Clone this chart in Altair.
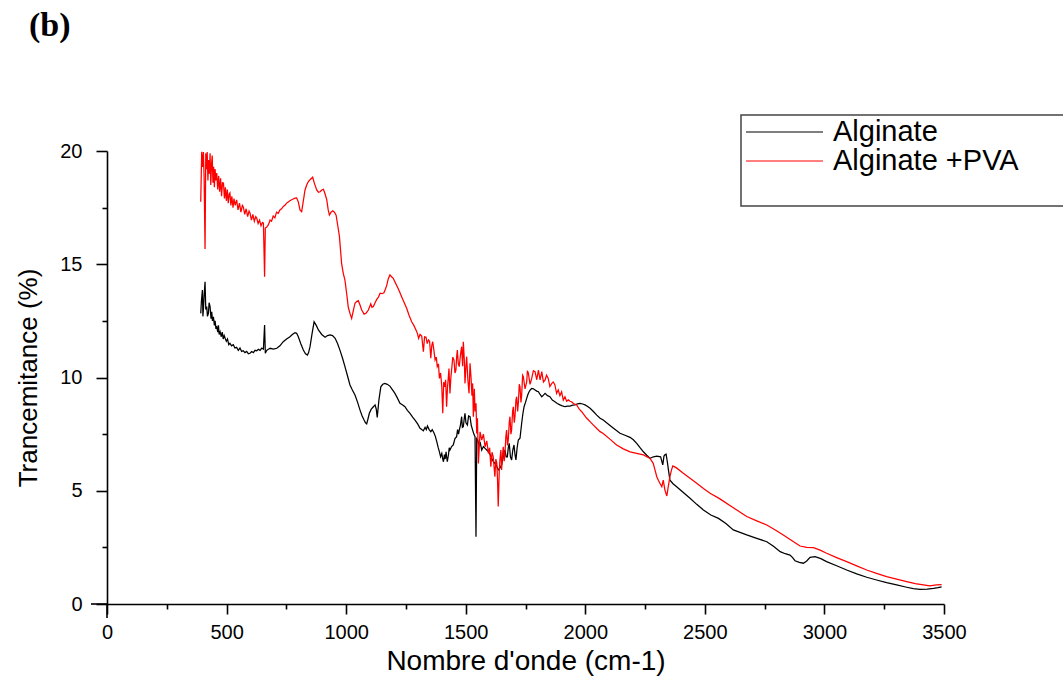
import altair as alt
import pandas as pd

# ---- data ----
series_names = ["Alginate", "Alginate +PVA"]
series_colors = ["#000000", "#ff0000"]

alg_wn = [392, 395, 399, 401, 403, 406, 410, 413, 417, 420, 424, 427, 431, 435, 438, 441, 445, 449, 452, 455,
          459, 463, 466, 469, 473, 478, 482, 486, 490, 494, 499, 504, 509, 514, 521, 528, 535, 542, 549, 556,
          563, 570, 577, 584, 591, 598, 605, 612, 619, 626, 633, 640, 647, 654, 659, 662, 668, 675, 682, 696,
          710, 723, 737, 751, 765, 775, 786, 793, 800, 810, 821, 830, 838, 843, 849, 857, 866, 875, 884, 898,
          912, 922, 933, 943, 954, 964, 974, 985, 995, 1005, 1016, 1026, 1037, 1048, 1058, 1067, 1075, 1081, 1086, 1092,
          1097, 1105, 1114, 1121, 1126, 1130, 1137, 1145, 1153, 1162, 1172, 1183, 1194, 1204, 1214, 1225, 1235, 1246, 1256, 1267,
          1278, 1288, 1299, 1309, 1316, 1323, 1330, 1335, 1340, 1347, 1354, 1360, 1367, 1373, 1379, 1385, 1390, 1395, 1400, 1404,
          1407, 1411, 1414, 1418, 1420, 1423, 1428, 1431, 1434, 1441, 1448, 1455, 1462, 1466, 1470, 1473, 1478, 1483, 1486, 1490,
          1494, 1497, 1501, 1507, 1512, 1518, 1523, 1529, 1534, 1539, 1543, 1546, 1550, 1556, 1561, 1567, 1574, 1581, 1588, 1595,
          1602, 1609, 1615, 1622, 1629, 1636, 1643, 1650, 1657, 1664, 1669, 1674, 1678, 1682, 1687, 1692, 1697, 1702, 1706, 1710,
          1715, 1720, 1727, 1734, 1739, 1744, 1750, 1755, 1760, 1765, 1770, 1776, 1783, 1790, 1797, 1804, 1811, 1818, 1825, 1832,
          1842, 1852, 1862, 1873, 1883, 1894, 1904, 1915, 1926, 1936, 1947, 1957, 1968, 1978, 1989, 1999, 2010, 2020, 2034, 2048,
          2062, 2075, 2110, 2145, 2166, 2187, 2201, 2215, 2229, 2243, 2257, 2271, 2285, 2299, 2315, 2324, 2329, 2334, 2338, 2343,
          2348, 2354, 2368, 2382, 2410, 2438, 2466, 2494, 2525, 2557, 2588, 2619, 2647, 2675, 2717, 2759, 2787, 2815, 2836, 2856,
          2867, 2877, 2895, 2912, 2926, 2940, 2961, 2985, 3009, 3051, 3093, 3135, 3177, 3218, 3260, 3302, 3344, 3372, 3400, 3430,
          3456, 3475, 3490]
alg_t = [12.83, 13.4, 13.86, 12.7, 12.98, 13.6, 14.23, 13.0, 13.13, 12.7, 12.83, 13.3, 13.13, 12.6, 12.9, 12.5, 12.68, 12.3, 12.5, 12.2,
         12.24, 12.0, 12.3, 11.9, 12.02, 11.8, 12.0, 11.7, 11.85, 11.73, 11.6, 11.7, 11.45, 11.51, 11.4, 11.45, 11.3, 11.33, 11.2, 11.3,
         11.15, 11.18, 11.1, 11.15, 11.05, 11.07, 11.15, 11.1, 11.2, 11.18, 11.25, 11.2, 11.3, 11.25, 12.32, 11.07, 11.2, 11.25, 11.29, 11.25,
         11.29, 11.4, 11.58, 11.7, 11.80, 11.9, 11.98, 11.95, 11.80, 11.5, 11.21, 11.05, 10.99, 11.1, 11.36, 11.9, 12.46, 12.3, 12.10, 11.9,
         11.78, 11.85, 11.88, 11.85, 11.73, 11.5, 11.21, 10.85, 10.48, 10.1, 9.67, 9.45, 9.23, 8.9, 8.56, 8.3, 8.12, 8.0, 7.95, 8.2,
         8.42, 8.6, 8.71, 8.79, 8.6, 8.24, 9.0, 9.59, 9.7, 9.74, 9.7, 9.62, 9.45, 9.30, 9.1, 8.86, 8.8, 8.71, 8.55, 8.42,
         8.25, 8.12, 7.95, 7.76, 7.7, 7.65, 7.8, 7.7, 7.86, 7.7, 7.61, 7.7, 7.56, 7.4, 7.17, 6.9, 6.72, 6.5, 6.65, 6.4,
         6.28, 6.6, 6.4, 6.72, 6.5, 6.28, 6.6, 6.9, 6.80, 6.95, 7.02, 7.3, 7.39, 7.7, 7.5, 7.68, 7.9, 8.27, 7.8, 7.83,
         8.2, 8.42, 8.0, 7.90, 8.3, 8.27, 7.9, 7.68, 7.5, 7.39, 2.97, 7.3, 7.24, 7.0, 7.1, 6.80, 6.95, 6.87, 6.8, 6.72,
         6.6, 6.43, 6.3, 6.21, 6.1, 5.92, 6.0, 6.14, 6.5, 6.80, 6.5, 6.50, 6.9, 7.09, 6.5, 6.36, 6.8, 7.02, 6.6, 6.36,
         6.9, 7.24, 7.32, 7.98, 8.4, 8.71, 8.9, 9.08, 9.25, 9.37, 9.45, 9.52, 9.5, 9.45, 9.4, 9.37, 9.25, 9.15, 9.22, 9.30,
         9.2, 9.15, 9.0, 8.93, 8.85, 8.79, 8.75, 8.71, 8.74, 8.74, 8.78, 8.79, 8.84, 8.86, 8.83, 8.79, 8.72, 8.64, 8.5, 8.34,
         8.2, 8.12, 7.83, 7.54, 7.45, 7.36, 7.25, 7.09, 6.9, 6.72, 6.57, 6.43, 6.5, 6.53, 6.50, 6.14, 6.53, 6.6, 6.62, 6.28,
         5.9, 5.47, 5.3, 5.18, 4.92, 4.67, 4.4, 4.15, 3.93, 3.78, 3.55, 3.27, 3.16, 3.05, 2.9, 2.75, 2.55, 2.31, 2.22, 2.16,
         2.05, 1.91, 1.84, 1.80, 1.9, 2.06, 2.09, 2.0, 1.87, 1.69, 1.50, 1.33, 1.18, 1.06, 0.94, 0.84, 0.74, 0.68, 0.65, 0.66,
         0.69, 0.72, 0.76]

pva_wn = [392, 396, 400, 403, 406, 410, 413, 416, 419, 422, 425, 428, 431, 434, 437, 440, 443, 446, 449, 452,
          455, 459, 463, 467, 471, 475, 479, 483, 487, 491, 495, 499, 503, 507, 511, 514, 518, 522, 527, 531,
          536, 542, 548, 554, 560, 566, 570, 576, 582, 588, 594, 598, 604, 610, 616, 622, 626, 632, 638, 644,
          650, 654, 659, 662, 668, 675, 682, 688, 695, 702, 709, 716, 723, 730, 737, 744, 751, 758, 765, 772,
          779, 786, 793, 800, 807, 814, 821, 828, 835, 842, 851, 860, 868, 877, 884, 891, 898, 905, 912, 919,
          925, 930, 937, 944, 951, 958, 965, 972, 981, 988, 995, 1002, 1009, 1016, 1023, 1030, 1037, 1044, 1051, 1058,
          1065, 1075, 1084, 1093, 1103, 1108, 1114, 1121, 1128, 1135, 1142, 1150, 1158, 1164, 1170, 1176, 1183, 1190, 1197, 1205,
          1214, 1223, 1232, 1243, 1253, 1263, 1274, 1283, 1292, 1298, 1303, 1309, 1316, 1323, 1328, 1334, 1339, 1344, 1349, 1354,
          1358, 1362, 1367, 1372, 1377, 1381, 1386, 1390, 1395, 1400, 1404, 1408, 1412, 1416, 1420, 1424, 1427, 1430, 1434, 1438,
          1441, 1446, 1451, 1455, 1459, 1462, 1465, 1469, 1473, 1478, 1483, 1487, 1490, 1494, 1497, 1501, 1504, 1509, 1514, 1518,
          1522, 1526, 1529, 1532, 1536, 1539, 1543, 1546, 1549, 1553, 1560, 1567, 1574, 1581, 1588, 1595, 1600, 1605, 1610, 1615,
          1619, 1622, 1626, 1630, 1633, 1636, 1640, 1643, 1647, 1650, 1654, 1657, 1661, 1664, 1668, 1671, 1675, 1678, 1682, 1685,
          1689, 1692, 1696, 1699, 1703, 1706, 1710, 1713, 1717, 1720, 1724, 1727, 1731, 1734, 1738, 1741, 1748, 1755, 1758, 1762,
          1769, 1776, 1783, 1790, 1797, 1804, 1811, 1818, 1825, 1832, 1838, 1845, 1852, 1860, 1866, 1873, 1880, 1887, 1894, 1901,
          1908, 1915, 1922, 1929, 1936, 1943, 1950, 1964, 1975, 1985, 1995, 2006, 2020, 2034, 2048, 2062, 2075, 2103, 2131, 2159,
          2187, 2215, 2243, 2271, 2284, 2292, 2299, 2306, 2312, 2320, 2326, 2333, 2341, 2347, 2354, 2360, 2366, 2380, 2410, 2438,
          2466, 2494, 2522, 2563, 2619, 2675, 2717, 2759, 2793, 2828, 2863, 2898, 2926, 2954, 2982, 3009, 3051, 3093, 3135, 3177,
          3218, 3260, 3302, 3344, 3380, 3414, 3440, 3469, 3490]
pva_t = [17.76, 19.97, 19.3, 19.95, 18.9, 15.67, 19.9, 19.2, 19.95, 18.7, 19.6, 19.0, 19.9, 18.5, 19.4, 19.8, 18.6, 19.3, 18.4, 19.2,
         18.7, 19.03, 18.3, 18.9, 18.2, 18.8, 18.0, 18.6, 18.59, 17.9, 18.4, 17.8, 18.3, 17.7, 18.1, 18.15, 17.6, 18.0, 17.5, 17.9,
         17.6, 17.84, 17.4, 17.7, 17.3, 17.6, 17.53, 17.2, 17.45, 17.1, 17.35, 17.26, 16.95, 17.2, 16.9, 17.1, 17.04, 16.8, 16.95, 16.7,
         16.85, 16.82, 14.45, 16.6, 16.64, 16.75, 16.95, 16.9, 17.13, 17.05, 17.3, 17.25, 17.40, 17.45, 17.55, 17.6, 17.7, 17.75, 17.8, 17.85,
         17.88, 17.92, 17.93, 17.75, 17.40, 17.32, 17.8, 18.28, 18.5, 18.65, 18.75, 18.84, 18.55, 18.28, 18.18, 18.2, 18.28, 18.31, 18.1, 17.84,
         17.4, 17.17, 17.3, 17.36, 17.3, 17.17, 16.7, 16.22, 15.04, 14.6, 14.30, 13.72, 13.1, 12.83, 12.61, 12.95, 13.28, 13.35, 13.39, 13.2,
         12.98, 12.80, 12.85, 12.98, 13.25, 13.1, 13.13, 13.3, 13.45, 13.55, 13.72, 13.7, 13.74, 13.9, 14.08, 14.35, 14.53, 14.45, 14.38, 14.2,
         14.01, 13.8, 13.57, 13.3, 13.06, 12.75, 12.46, 12.3, 12.10, 11.95, 11.73, 11.9, 11.83, 11.14, 11.8, 11.78, 11.5, 11.66, 11.6, 10.85,
         11.4, 11.58, 11.2, 10.77, 10.9, 10.48, 10.6, 9.96, 10.2, 9.59, 8.42, 9.8, 9.59, 9.9, 8.71, 9.6, 9.96, 10.4, 9.30, 10.0,
         10.33, 10.9, 10.77, 10.2, 10.33, 10.9, 11.21, 10.6, 10.48, 11.0, 11.36, 10.5, 11.58, 10.8, 9.74, 10.5, 10.92, 9.9, 9.30, 10.63,
         10.04, 9.2, 9.74, 8.27, 9.5, 8.5, 8.86, 7.53, 8.2, 6.2, 7.6, 7.24, 7.5, 6.94, 7.2, 6.65, 6.9, 6.06, 6.7, 6.50,
         6.0, 5.62, 6.4, 6.21, 5.5, 4.30, 5.8, 6.36, 6.8, 5.92, 6.6, 6.94, 6.3, 6.65, 7.4, 7.68, 7.0, 7.24, 8.0, 8.27,
         7.5, 7.68, 8.5, 8.71, 8.0, 8.27, 9.0, 9.15, 8.5, 8.86, 9.7, 9.59, 8.9, 9.23, 10.1, 10.04, 9.5, 9.81, 10.3, 10.19,
         9.7, 9.96, 10.3, 10.26, 9.9, 10.33, 9.89, 10.26, 9.8, 9.89, 10.1, 9.96, 9.6, 9.74, 9.8, 9.67, 9.3, 9.45, 9.2, 9.37,
         9.0, 9.15, 8.95, 9.01, 8.95, 8.93, 8.85, 8.79, 8.6, 8.49, 8.35, 8.20, 8.05, 7.90, 7.75, 7.61, 7.53, 7.28, 7.02, 6.85,
         6.72, 6.65, 6.58, 6.43, 6.21, 5.9, 5.62, 5.45, 5.33, 5.18, 5.47, 5.03, 4.77, 5.18, 5.62, 5.9, 6.1, 6.02, 5.77, 5.55,
         5.33, 5.1, 4.89, 4.64, 4.25, 3.86, 3.67, 3.49, 3.28, 3.05, 2.8, 2.56, 2.5, 2.49, 2.38, 2.24, 2.05, 1.87, 1.68, 1.50,
         1.35, 1.21, 1.1, 0.99, 0.9, 0.84, 0.8, 0.84, 0.86]

x_ticks = list(range(0, 3501, 250))
y_ticks = [0, 2.5, 5, 7.5, 10, 12.5, 15, 17.5, 20]

df = pd.concat([
    pd.DataFrame({"wn": alg_wn, "t": alg_t, "s": series_names[0]}),
    pd.DataFrame({"wn": pva_wn, "t": pva_t, "s": series_names[1]}),
])

W, H = 837, 453
SANS = "Liberation Sans, Arial, sans-serif"

lines = alt.Chart(df).mark_line(strokeWidth=1.25, clip=True).encode(
    x=alt.X("wn:Q", scale=alt.Scale(domain=[0, 3500], nice=False, zero=False),
            axis=alt.Axis(values=x_ticks, title="Nombre d'onde (cm-1)", format="d",
                          labelExpr="datum.value % 500 === 0 ? datum.label : ''",
                          tickSize={"condition": {"test": "datum.value % 500 === 0", "value": 10}, "value": 5},
                          labelFontSize=20, titleFontSize=28, labelPadding=8, titlePadding=5,
                          labelOverlap=False, labelFlush=False)),
    y=alt.Y("t:Q", scale=alt.Scale(domain=[0, 20], nice=False),
            axis=alt.Axis(values=y_ticks, title="Trancemitance (%)",
                          labelExpr="datum.value % 5 === 0 ? format(datum.value, 'd') : ''",
                          tickSize={"condition": {"test": "datum.value % 5 === 0", "value": 11}, "value": 5},
                          labelFontSize=20, titleFontSize=26, labelPadding=14, titlePadding=18,
                          labelOverlap=False, labelFlush=False)),
    color=alt.Color("s:N", scale=alt.Scale(domain=series_names, range=series_colors), legend=None),
    detail="s:N",
)

# axis line extensions past the origin (Origin-style crossing)
ext_x = alt.Chart().mark_rule(color="black", strokeWidth=1.6).encode(
    x=alt.value(-16), x2=alt.value(0), y=alt.value(H))
ext_y = alt.Chart().mark_rule(color="black", strokeWidth=1.6).encode(
    x=alt.value(0), y=alt.value(H), y2=alt.value(H + 14))

# legend box drawn by hand
box = alt.Chart().mark_rect(fill="white", stroke="#444444", strokeWidth=1.5).encode(
    x=alt.value(634), x2=alt.value(970), y=alt.value(-36), y2=alt.value(55))
leg_layers = []
for i, (name, col) in enumerate(zip(series_names, series_colors)):
    yy = -19 + i * 29
    leg_layers.append(alt.Chart().mark_rule(color=col, strokeWidth=1.2).encode(
        x=alt.value(639), x2=alt.value(716), y=alt.value(yy)))
    leg_layers.append(alt.Chart().mark_text(align="left", baseline="middle", font=SANS,
                                            fontSize=29, color="black").encode(
        x=alt.value(726), y=alt.value(yy), text=alt.value(name)))

panel = alt.Chart().mark_text(align="left", baseline="middle", font="Liberation Serif",
                              fontWeight="bold", fontSize=34, color="black").encode(
    x=alt.value(-78), y=alt.value(-125), text=alt.value("(b)"))

chart = alt.layer(lines, ext_x, ext_y, box, *leg_layers, panel).properties(
    width=W, height=H,
    autosize=alt.AutoSizeParams(type="none"),
    padding={"left": 107, "top": 151, "right": 1063 - 107 - W, "bottom": 682 - 151 - H},
    background="white",
).configure_view(stroke=None).configure_axis(
    grid=False, domainColor="black", domainWidth=1.6, tickColor="black", tickWidth=1.6,
    labelFont=SANS, titleFont=SANS, labelColor="black", titleColor="black",
    titleFontWeight="normal",
)

chart.save("out.html", embed_options={"renderer": "svg", "actions": False})
